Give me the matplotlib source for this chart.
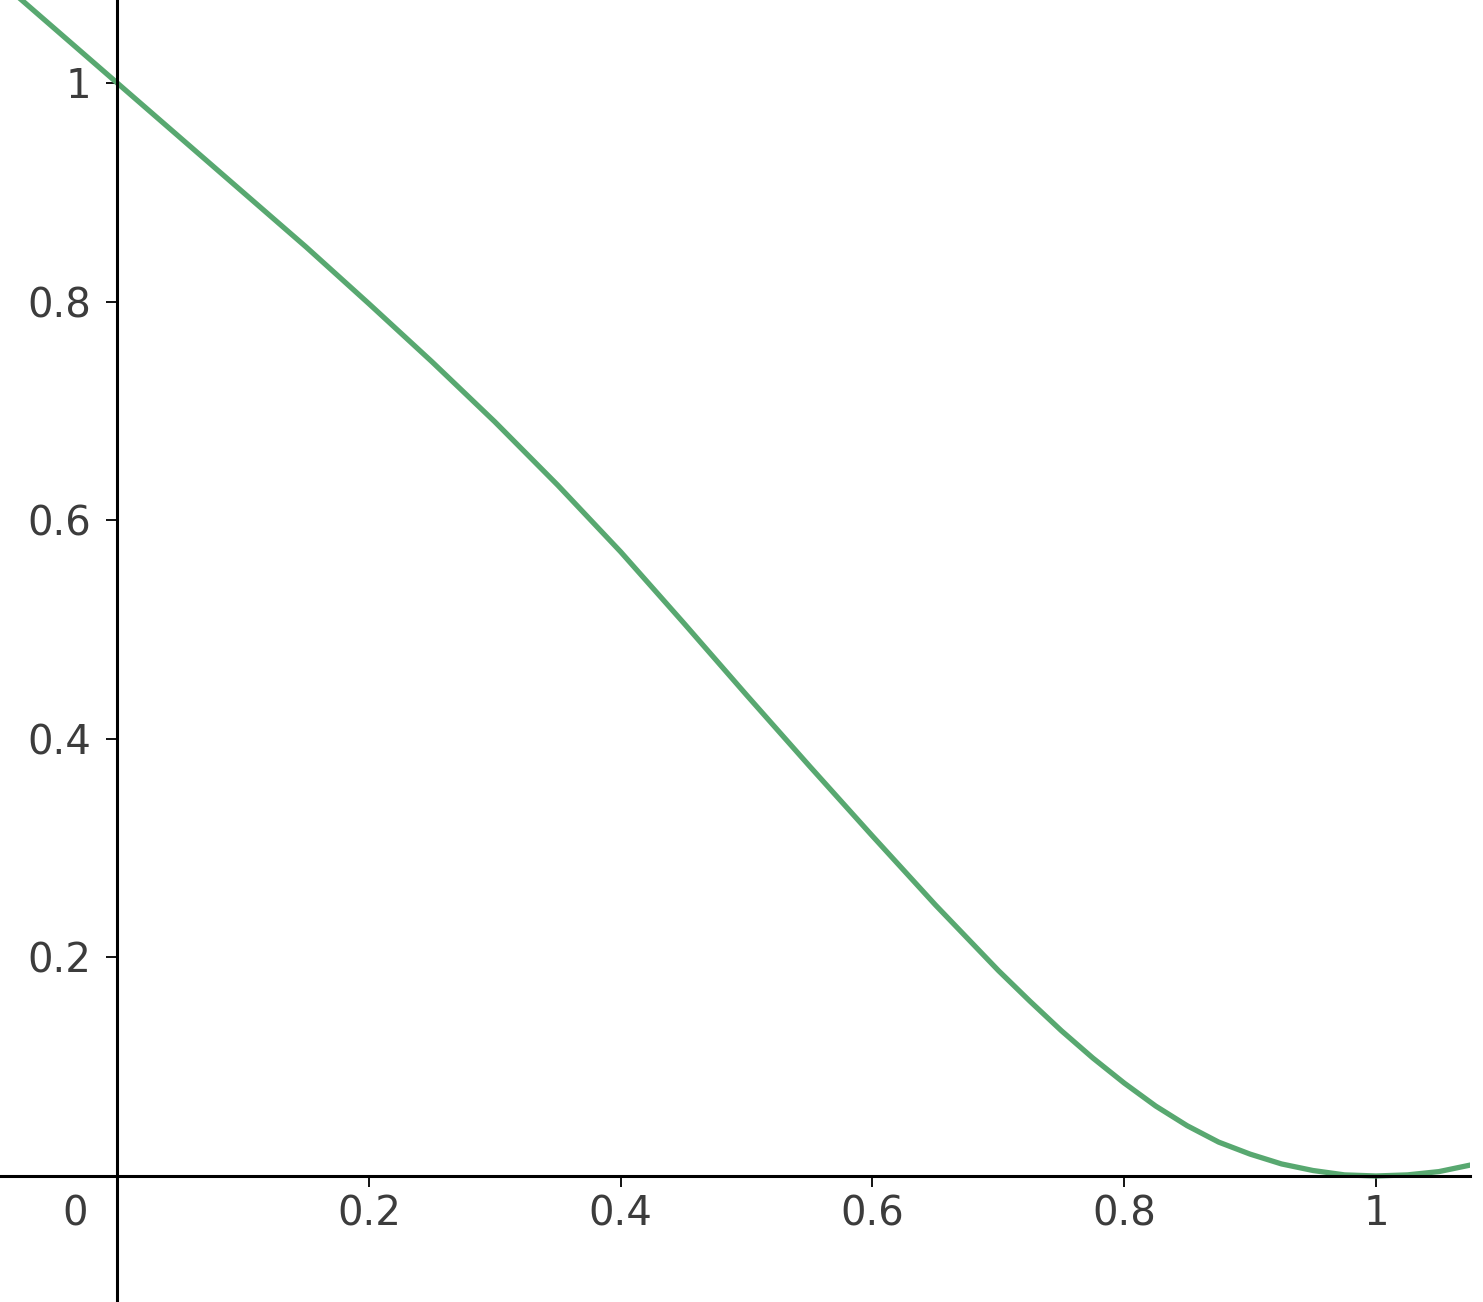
import matplotlib
matplotlib.use("Agg")
import matplotlib.pyplot as plt

plt.rcParams["font.family"] = "DejaVu Sans"

# curve values
xs = [-0.10, -0.05, 0.00, 0.05, 0.10, 0.15, 0.20, 0.25, 0.30, 0.35, 0.40,
      0.45, 0.50, 0.55, 0.60, 0.65, 0.70, 0.725, 0.75, 0.775, 0.80, 0.825,
      0.85, 0.875, 0.90, 0.925, 0.95, 0.975, 1.00, 1.025, 1.05, 1.075, 1.10]
ys = [1.100, 1.050, 1.000, 0.950, 0.900, 0.850, 0.798, 0.745, 0.690, 0.632,
      0.571, 0.506, 0.440, 0.375, 0.311, 0.248, 0.188, 0.160, 0.133, 0.108,
      0.085, 0.064, 0.046, 0.031, 0.020, 0.011, 0.005, 0.001, 0.000, 0.001,
      0.004, 0.010, 0.018]

xticks = [0.2, 0.4, 0.6, 0.8, 1.0]
xticklabels = ["0.2", "0.4", "0.6", "0.8", "1"]
yticks = [0.2, 0.4, 0.6, 0.8, 1.0]
yticklabels = ["0.2", "0.4", "0.6", "0.8", "1"]

green = '#58a870'
txt = '#3c3c3c'

fig = plt.figure(figsize=(14.83, 13.02), dpi=100)
ax = fig.add_axes([0, 0, 1470 / 1483, 1])

ax.plot(xs, ys, color=green, linewidth=3.8, solid_joinstyle='round')

ax.set_xlim(-0.0931, 1.0747)
ax.set_ylim(-0.1153, 1.0759)

# geogebra style axes through the origin
ax.spines['left'].set_position(('data', 0))
ax.spines['bottom'].set_position(('data', 0))
ax.spines['top'].set_visible(False)
ax.spines['right'].set_visible(False)
for s in ['left', 'bottom']:
    ax.spines[s].set_linewidth(2.2)
    ax.spines[s].set_color('black')

ax.set_xticks(xticks)
ax.set_xticklabels(xticklabels)
ax.set_yticks(yticks)
ax.set_yticklabels(yticklabels)
ax.tick_params(axis='both', direction='out', length=8, width=1.3,
               labelsize=29, labelcolor=txt, color='black')
ax.tick_params(axis='x', pad=5)
ax.tick_params(axis='y', pad=11)

ax.annotate('0', xy=(0, 0), xytext=(-42, -39), textcoords='offset pixels',
            ha='center', va='center', fontsize=29, color=txt)

fig.savefig("out.png", dpi=100)
